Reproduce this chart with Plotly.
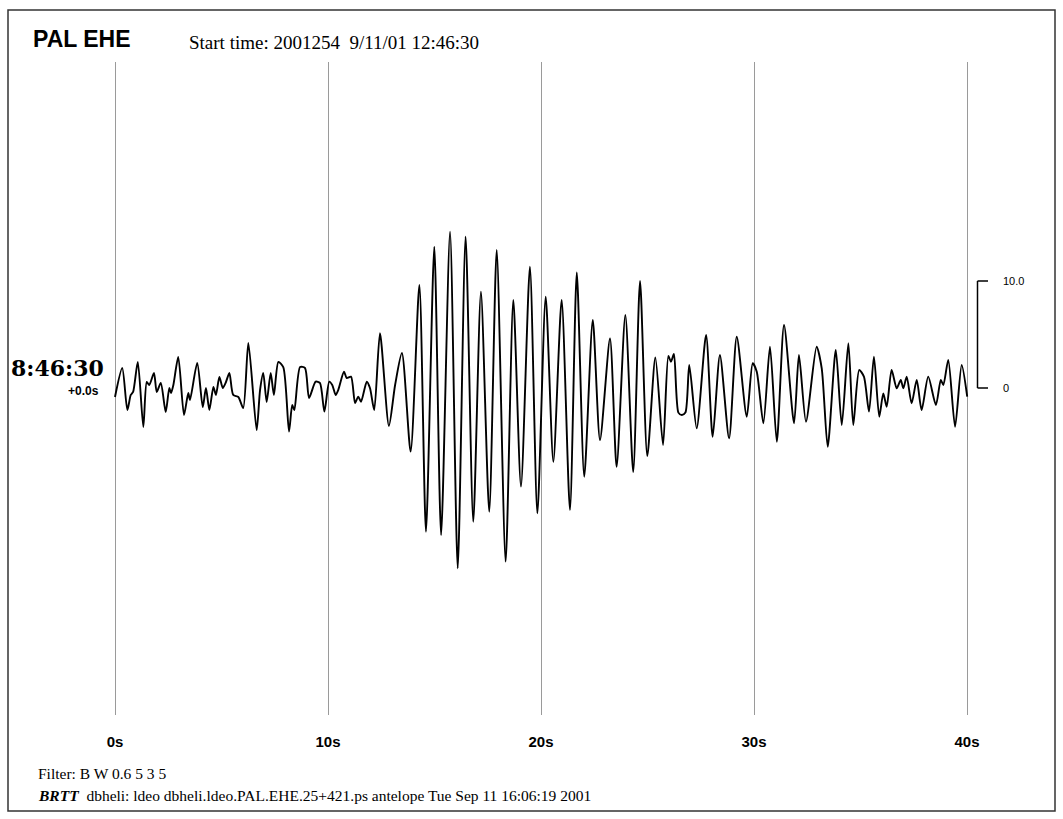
import plotly.graph_objects as go

# ---- data (time in s, amplitude in scale units) ----
time_s = [0.00, 0.34, 0.58, 0.74, 0.85, 1.07, 1.33, 1.49, 1.61, 1.83, 1.96, 2.15, 2.38, 2.55, 2.63, 2.74,
          2.97, 3.24, 3.44, 3.52, 3.86, 4.12, 4.27, 4.43, 4.62, 4.74, 4.90, 5.06, 5.21, 5.37, 5.55, 5.79,
          6.02, 6.26, 6.65, 6.81, 6.96, 7.12, 7.31, 7.46, 7.67, 7.90, 8.17, 8.32, 8.42, 8.69, 8.92, 9.11,
          9.42, 9.62, 9.83, 10.06, 10.20, 10.36, 10.48, 10.75, 10.88, 11.08, 11.27, 11.42, 11.55, 11.82,
          11.97, 12.17, 12.44, 12.86, 13.15, 13.47, 13.88, 14.29, 14.60, 14.99, 15.31, 15.73, 16.09, 16.46,
          16.82, 17.18, 17.57, 17.92, 18.34, 18.70, 19.06, 19.48, 19.83, 20.22, 20.58, 20.97, 21.36, 21.68,
          22.03, 22.43, 22.77, 23.24, 23.55, 23.96, 24.33, 24.65, 24.99, 25.37, 25.73, 25.98, 26.10, 26.24,
          26.45, 26.61, 26.78, 26.96, 27.31, 27.75, 28.06, 28.40, 28.83, 29.19, 29.66, 29.94, 30.13, 30.44,
          30.75, 31.07, 31.41, 31.88, 32.11, 32.44, 32.94, 33.18, 33.46, 33.84, 34.12, 34.43, 34.66, 34.94,
          35.16, 35.40, 35.63, 35.88, 36.07, 36.23, 36.46, 36.70, 36.89, 37.01, 37.17, 37.40, 37.64, 37.87,
          38.18, 38.54, 38.77, 38.89, 39.12, 39.44, 39.75, 40.01]
amplitude = [-0.84, 1.87, -2.06, -0.65, -0.37, 2.43, -3.64, 0.56, 0.28, 1.40, -0.37, 0.47, -2.24, 0.00, -0.47, 0.28,
             2.90, -2.52, -0.47, -1.12, 2.34, -1.78, 0.00, -2.06, 0.09, -0.65, 1.03, 0.00, 0.56, 1.40, -0.65, -0.84,
             -1.87, 4.21, -3.93, -0.19, 1.40, -1.31, 1.40, -0.65, 2.43, 1.96, -4.08, -1.59, -2.06, 1.96, 1.87, -0.93,
             0.59, 0.47, -2.21, 0.59, 0.28, -0.65, -0.19, 1.52, 0.93, 1.06, -1.40, -0.81, -1.28, 0.59,
             0.00, -2.06, 5.11, -3.55, 0.28, 3.27, -5.95, 9.63, -13.43, 13.21, -13.74, 14.61, -16.85, 14.14,
             -12.50, 9.00, -11.56, 12.90, -16.23, 8.22, -9.22, 11.34, -11.71, 8.53, -6.89, 8.22, -11.40, 10.79,
             -8.29, 6.36, -4.86, 4.63, -7.36, 6.82, -7.85, 10.00, -6.36, 2.85, -5.33, 2.99, 2.46, 3.18,
             -2.30, -2.52, -2.30, 2.15, -3.77, 4.95, -4.55, 3.08, -4.70, 4.79, -2.68, 2.31, 1.52, -3.30,
             3.86, -5.02, 5.89, -3.30, 3.08, -3.15, 3.86, 1.84, -5.49, 3.55, -3.46, 4.18, -3.46, 1.68,
             1.06, -2.21, 2.93, -2.68, -0.50, -1.75, 1.68, -0.03, 0.75, -0.03, 1.06, -1.43, 0.75, -2.06,
             1.06, -1.59, 0.75, 0.28, 2.62, -3.62, 2.15, -0.81]

tick_vals = [0, 10, 20, 30, 40]
tick_text = ["0s", "10s", "20s", "30s", "40s"]
scale_vals = [0, 10.0]
scale_text = ["0", "10.0"]

# ---- layout geometry ----
W, H = 1063, 819
MT, MB = 62, 104
PX_PER_S = 21.3
PX_PER_UNIT = 10.7
X0_PX = 115
BASE_PX = 388

def px(x):
    return x / W

def py(y):
    return (H - MB - y) / (H - MT - MB)

x_range = [-X0_PX / PX_PER_S, (W - X0_PX) / PX_PER_S]
y_range = [(BASE_PX - (H - MB)) / PX_PER_UNIT, (BASE_PX - MT) / PX_PER_UNIT]

fig = go.Figure()
fig.add_trace(go.Scatter(
    x=time_s, y=amplitude, mode="lines",
    line=dict(color="black", width=1.9, shape="spline", smoothing=0.7),
    hoverinfo="skip", showlegend=False,
))

sans_b = "Liberation Sans Narrow, Arial Narrow, Liberation Sans, Arial"
serif = "Liberation Serif, Times New Roman, serif"

fig.update_layout(
    width=W, height=H,
    margin=dict(l=0, r=0, t=MT, b=MB, pad=0),
    paper_bgcolor="white", plot_bgcolor="white",
    xaxis=dict(range=x_range, tickvals=tick_vals, ticktext=tick_text,
               showgrid=True, gridcolor="#9a9a9a", gridwidth=1,
               zeroline=False, showline=False, ticks="",
               ticklabelstandoff=16,
               tickfont=dict(family=sans_b, size=15, color="black", weight="bold"),
               fixedrange=True),
    yaxis=dict(range=y_range, visible=False, showgrid=False, zeroline=False, fixedrange=True),
)

# scale bar
bar_x = px(977.5)
tick_end = px(988)
fig.add_shape(type="line", xref="paper", yref="y", x0=bar_x, x1=bar_x,
              y0=scale_vals[0], y1=scale_vals[1], line=dict(color="black", width=1.5))
for v, t in zip(scale_vals, scale_text):
    fig.add_shape(type="line", xref="paper", yref="y", x0=bar_x, x1=tick_end, y0=v, y1=v,
                  line=dict(color="black", width=1.5))
    fig.add_annotation(xref="paper", yref="y", x=px(1001), y=v, text=t, showarrow=False,
                       xanchor="left", yanchor="middle",
                       font=dict(family=sans_b, size=11, color="black"))

# outer frame
fig.add_shape(type="rect", xref="paper", yref="paper", x0=px(8), x1=px(1055), y0=py(811), y1=py(10),
              line=dict(color="#333333", width=1.5), fillcolor="rgba(0,0,0,0)")

# texts
fig.add_annotation(xref="paper", yref="paper", x=px(31), y=py(39), text="<b>PAL EHE</b>",
                   showarrow=False, xanchor="left", yanchor="middle",
                   font=dict(family="Liberation Sans, Arial", size=23, color="black"))
fig.add_annotation(xref="paper", yref="paper", x=px(187), y=py(43),
                   text="Start time: 2001254&nbsp;&nbsp;9/11/01 12:46:30",
                   showarrow=False, xanchor="left", yanchor="middle",
                   font=dict(family=serif, size=19, color="black"))
fig.add_annotation(xref="paper", yref="paper", x=px(106), y=py(368), text="<b>8:46:30</b>",
                   showarrow=False, xanchor="right", yanchor="middle",
                   font=dict(family="DejaVu Serif, serif", size=22, color="black"))
fig.add_annotation(xref="paper", yref="paper", x=px(101), y=py(391), text="<b>+0.0s</b>",
                   showarrow=False, xanchor="right", yanchor="middle",
                   font=dict(family=sans_b, size=12, color="black"))
fig.add_annotation(xref="paper", yref="paper", x=px(36), y=py(774), text="Filter: B W 0.6 5 3 5",
                   showarrow=False, xanchor="left", yanchor="middle",
                   font=dict(family=serif, size=15.5, color="black"))
fig.add_annotation(xref="paper", yref="paper", x=px(36), y=py(795),
                   text="<b><i>BRTT</i></b>&nbsp; dbheli: ldeo dbheli.ldeo.PAL.EHE.25+421.ps antelope Tue Sep 11 16:06:19 2001",
                   showarrow=False, xanchor="left", yanchor="middle",
                   font=dict(family=serif, size=15.5, color="black"))

fig.write_html("out.html", config={"displayModeBar": False},
               post_script="document.body.style.margin='0';document.body.style.overflow='hidden';")
